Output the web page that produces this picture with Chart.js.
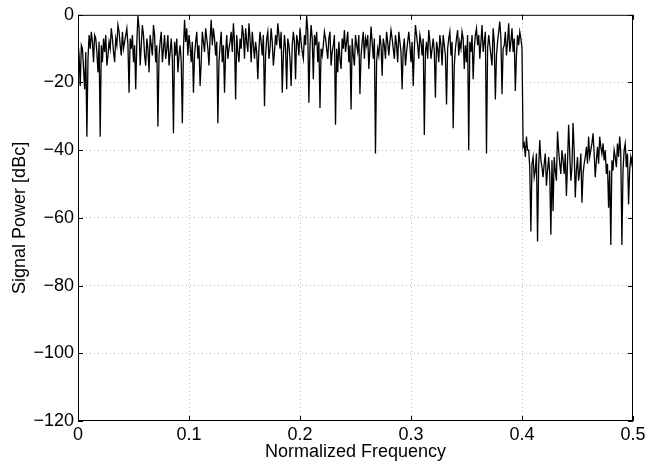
<!DOCTYPE html>
<html>
<head>
<meta charset="utf-8">
<script src="https://cdn.jsdelivr.net/npm/chart.js@4.4.0/dist/chart.umd.min.js"></script>
<style>
  html, body { margin: 0; padding: 0; background: #fff; }
  #wrap { width: 649px; height: 467px; }
</style>
</head>
<body>
<div id="wrap"><canvas id="spectrum"></canvas></div>
<script>
// frequency bins (normalized), 0.001 apart
const freqs = [
  0, 0.001, 0.002, 0.003, 0.004, 0.005, 0.006, 0.007, 0.008, 0.009, 0.01, 0.011, 0.012, 0.013, 0.014, 0.015, 0.016, 0.017, 0.018, 0.019,
  0.02, 0.021, 0.022, 0.023, 0.024, 0.025, 0.026, 0.027, 0.028, 0.029, 0.03, 0.031, 0.032, 0.033, 0.034, 0.035, 0.036, 0.037, 0.038, 0.039,
  0.04, 0.041, 0.042, 0.043, 0.044, 0.045, 0.046, 0.047, 0.048, 0.049, 0.05, 0.051, 0.052, 0.053, 0.054, 0.055, 0.056, 0.057, 0.058, 0.059,
  0.06, 0.061, 0.062, 0.063, 0.064, 0.065, 0.066, 0.067, 0.068, 0.069, 0.07, 0.071, 0.072, 0.073, 0.074, 0.075, 0.076, 0.077, 0.078, 0.079,
  0.08, 0.081, 0.082, 0.083, 0.084, 0.085, 0.086, 0.087, 0.088, 0.089, 0.09, 0.091, 0.092, 0.093, 0.094, 0.095, 0.096, 0.097, 0.098, 0.099,
  0.1, 0.101, 0.102, 0.103, 0.104, 0.105, 0.106, 0.107, 0.108, 0.109, 0.11, 0.111, 0.112, 0.113, 0.114, 0.115, 0.116, 0.117, 0.118, 0.119,
  0.12, 0.121, 0.122, 0.123, 0.124, 0.125, 0.126, 0.127, 0.128, 0.129, 0.13, 0.131, 0.132, 0.133, 0.134, 0.135, 0.136, 0.137, 0.138, 0.139,
  0.14, 0.141, 0.142, 0.143, 0.144, 0.145, 0.146, 0.147, 0.148, 0.149, 0.15, 0.151, 0.152, 0.153, 0.154, 0.155, 0.156, 0.157, 0.158, 0.159,
  0.16, 0.161, 0.162, 0.163, 0.164, 0.165, 0.166, 0.167, 0.168, 0.169, 0.17, 0.171, 0.172, 0.173, 0.174, 0.175, 0.176, 0.177, 0.178, 0.179,
  0.18, 0.181, 0.182, 0.183, 0.184, 0.185, 0.186, 0.187, 0.188, 0.189, 0.19, 0.191, 0.192, 0.193, 0.194, 0.195, 0.196, 0.197, 0.198, 0.199,
  0.2, 0.201, 0.202, 0.203, 0.204, 0.205, 0.206, 0.207, 0.208, 0.209, 0.21, 0.211, 0.212, 0.213, 0.214, 0.215, 0.216, 0.217, 0.218, 0.219,
  0.22, 0.221, 0.222, 0.223, 0.224, 0.225, 0.226, 0.227, 0.228, 0.229, 0.23, 0.231, 0.232, 0.233, 0.234, 0.235, 0.236, 0.237, 0.238, 0.239,
  0.24, 0.241, 0.242, 0.243, 0.244, 0.245, 0.246, 0.247, 0.248, 0.249, 0.25, 0.251, 0.252, 0.253, 0.254, 0.255, 0.256, 0.257, 0.258, 0.259,
  0.26, 0.261, 0.262, 0.263, 0.264, 0.265, 0.266, 0.267, 0.268, 0.269, 0.27, 0.271, 0.272, 0.273, 0.274, 0.275, 0.276, 0.277, 0.278, 0.279,
  0.28, 0.281, 0.282, 0.283, 0.284, 0.285, 0.286, 0.287, 0.288, 0.289, 0.29, 0.291, 0.292, 0.293, 0.294, 0.295, 0.296, 0.297, 0.298, 0.299,
  0.3, 0.301, 0.302, 0.303, 0.304, 0.305, 0.306, 0.307, 0.308, 0.309, 0.31, 0.311, 0.312, 0.313, 0.314, 0.315, 0.316, 0.317, 0.318, 0.319,
  0.32, 0.321, 0.322, 0.323, 0.324, 0.325, 0.326, 0.327, 0.328, 0.329, 0.33, 0.331, 0.332, 0.333, 0.334, 0.335, 0.336, 0.337, 0.338, 0.339,
  0.34, 0.341, 0.342, 0.343, 0.344, 0.345, 0.346, 0.347, 0.348, 0.349, 0.35, 0.351, 0.352, 0.353, 0.354, 0.355, 0.356, 0.357, 0.358, 0.359,
  0.36, 0.361, 0.362, 0.363, 0.364, 0.365, 0.366, 0.367, 0.368, 0.369, 0.37, 0.371, 0.372, 0.373, 0.374, 0.375, 0.376, 0.377, 0.378, 0.379,
  0.38, 0.381, 0.382, 0.383, 0.384, 0.385, 0.386, 0.387, 0.388, 0.389, 0.39, 0.391, 0.392, 0.393, 0.394, 0.395, 0.396, 0.397, 0.398, 0.399,
  0.4, 0.401, 0.402, 0.403, 0.404, 0.405, 0.406, 0.407, 0.408, 0.409, 0.41, 0.411, 0.412, 0.413, 0.414, 0.415, 0.416, 0.417, 0.418, 0.419,
  0.42, 0.421, 0.422, 0.423, 0.424, 0.425, 0.426, 0.427, 0.428, 0.429, 0.43, 0.431, 0.432, 0.433, 0.434, 0.435, 0.436, 0.437, 0.438, 0.439,
  0.44, 0.441, 0.442, 0.443, 0.444, 0.445, 0.446, 0.447, 0.448, 0.449, 0.45, 0.451, 0.452, 0.453, 0.454, 0.455, 0.456, 0.457, 0.458, 0.459,
  0.46, 0.461, 0.462, 0.463, 0.464, 0.465, 0.466, 0.467, 0.468, 0.469, 0.47, 0.471, 0.472, 0.473, 0.474, 0.475, 0.476, 0.477, 0.478, 0.479,
  0.48, 0.481, 0.482, 0.483, 0.484, 0.485, 0.486, 0.487, 0.488, 0.489, 0.49, 0.491, 0.492, 0.493, 0.494, 0.495, 0.496, 0.497, 0.498, 0.499,
  0.5
];

// measured power per bin, dBc (passband up to 0.4, then the stopband floor)
const powerDbc = [
  -8, -12, -21, -9, -10, -16, -22, -11, -36, -13, -6, -10, -5, -8, -14, -6, -7, -11, -17, -8,
  -36, -9, -14, -7, -11, -6, -15, -12, -8, -10, -4, -7, -11, -14, -7, -9, -3, -5, -9, -12,
  -5, -10, -8, -6, -4, -9, -23, -7, -10, -6, -14, -9, -22, -8, -0.3, -4, -15, -9, -3, -6,
  -12, -15, -7, -10, -17, -6, -9, -12, -3, -6, -14, -9, -33, -12, -8, -5, -14, -10, -6, -13,
  -10, -6, -15, -11, -7, -13, -35, -8, -12, -7, -17, -12, -9, -14, -32, -10, -1.5, -8, -4, -12,
  -6, -9, -14, -8, -23, -12, -8, -5, -13, -9, -21, -14, -5, -8, -11, -4, -7, -10, -15, -7,
  -1.5, -9, -4, -7, -12, -8, -32, -14, -9, -5, -14, -9, -23, -11, -6, -13, -10, -8, -5, -11,
  -2.5, -8, -25, -6, -11, -14, -7, -10, -3, -6, -13, -4, -8, -11, -2.5, -7, -14, -5, -9, -13,
  -8, -11, -19, -10, -5, -8, -12, -6, -27, -12, -7, -5, -13, -10, -4, -8, -15, -11, -6, -9,
  -2.5, -6, -10, -5, -23, -12, -6, -10, -22, -7, -9, -13, -21, -9, -5, -8, -19, -6, -8, -12,
  -4, -8, -11, -13, -6, -9, -0.2, -5, -26, -9, -3, -7, -19, -6, -9, -5, -14, -8, -27.5, -10,
  -12, -9, -5, -7, -10, -13, -7, -5, -15, -11, -9, -6, -32.5, -10, -17, -8, -13, -16, -7, -10,
  -4.5, -11, -8, -5, -14, -9, -28, -7, -12, -15, -6, -9, -11, -6, -23.5, -12, -8, -5, -13, -7,
  -9, -6, -16, -10, -3.5, -8, -13, -7, -41, -14, -10, -12, -6, -9, -18, -7, -9, -13, -5, -8,
  -12, -8, -4.5, -7, -10, -13, -6, -9, -14, -5, -8, -11, -22, -10, -7, -15, -11, -8, -5, -9,
  -14, -8, -21, -10, -3, -6, -9, -13, -6, -8, -12, -7, -35.5, -11, -8, -13, -4.5, -8, -13, -10,
  -7, -11, -24.5, -8, -10, -14, -6, -9, -15, -6, -9, -12, -26.5, -10, -7, -5, -12, -8, -33.5, -15,
  -10, -7, -4.5, -12, -8, -10, -5, -7, -16, -9, -14, -6, -40, -8, -11, -6, -19, -10, -6, -4,
  -9, -6, -13, -8, -3, -11, -8, -5, -41, -10, -6, -9, -12, -15, -4, -8, -25, -12, -8, -5,
  -2, -7, -23.5, -10, -9, -5, -12, -8, -2.5, -11, -8, -4, -11, -7, -22.5, -12, -6, -9, -5, -7,
  -10, -39, -38, -42, -36, -40, -40, -45, -64, -44, -42, -48, -46, -41, -67, -45, -37, -43, -45, -48,
  -44, -41, -50.5, -46, -42, -47, -65, -43, -58, -42, -46, -49, -34.5, -40, -44, -47, -40, -43, -47, -41,
  -53.5, -44, -32.5, -41, -49, -45, -32, -40, -54, -46, -42, -49, -46, -41, -55.5, -47, -44, -42, -39, -44,
  -36, -42, -40, -38, -35, -41, -48, -43, -39, -44, -36, -39, -41, -38, -43, -40, -47, -44, -57, -46,
  -68, -43, -46, -40, -42, -45, -38, -42, -36, -41, -68, -46, -40, -38, -45, -41, -56, -46, -42, -44,
  -40
];

const xTicks = [0, 0.1, 0.2, 0.3, 0.4, 0.5];
const yTicks = [0, -20, -40, -60, -80, -100, -120];

const FONT = { family: '"Liberation Sans", Arial, Helvetica, sans-serif', size: 18 };
const GRID = '#b4b4b4';

function minus(v) {
  return String(v).replace('-', '\u2212');
}

// full box + inward tick marks on all four sides
const boxTicks = {
  id: 'boxTicks',
  afterDraw(chart) {
    const { ctx, chartArea: a, scales: { x, y } } = chart;
    const len = 5;
    ctx.save();
    ctx.strokeStyle = '#000';
    ctx.lineWidth = 1;
    ctx.strokeRect(a.left + 0.5, a.top + 0.5, a.right - a.left - 1, a.bottom - a.top - 1);
    ctx.beginPath();
    xTicks.forEach(v => {
      const px = Math.round(x.getPixelForValue(v)) + 0.5;
      ctx.moveTo(px, a.bottom);
      ctx.lineTo(px, a.bottom - len);
      ctx.moveTo(px, a.top);
      ctx.lineTo(px, a.top + len);
    });
    yTicks.forEach(v => {
      const py = Math.round(y.getPixelForValue(v)) + 0.5;
      ctx.moveTo(a.left, py);
      ctx.lineTo(a.left + len, py);
      ctx.moveTo(a.right, py);
      ctx.lineTo(a.right - len, py);
    });
    ctx.stroke();
    ctx.restore();
  }
};

const edgeless = (lo, hi) => ctx => {
  const v = ctx.tick && ctx.tick.value;
  return (v === lo || v === hi) ? 'rgba(0,0,0,0)' : GRID;
};

new Chart(document.getElementById('spectrum'), {
  type: 'line',
  data: {
    datasets: [{
      data: freqs.map((f, i) => ({ x: f, y: powerDbc[i] })),
      borderColor: '#000',
      borderWidth: 1.3,
      pointRadius: 0,
      tension: 0,
      fill: false
    }]
  },
  options: {
    responsive: true,
    maintainAspectRatio: false,
    animation: false,
    layout: { padding: { top: 14, right: 16, left: 0, bottom: 0 } },
    plugins: {
      legend: { display: false },
      tooltip: { enabled: false }
    },
    scales: {
      x: {
        type: 'linear',
        min: 0,
        max: 0.5,
        afterBuildTicks: s => { s.ticks = xTicks.map(v => ({ value: v })); },
        afterFit: s => { s.height = 46; },
        ticks: {
          color: '#000',
          font: FONT,
          padding: 3,
          maxRotation: 0,
          callback: v => String(v)
        },
        grid: {
          color: edgeless(0, 0.5),
          lineWidth: 1,
          drawTicks: false
        },
        border: { display: false, dash: [1, 3] },
        title: {
          display: true,
          text: 'Normalized Frequency',
          color: '#000',
          font: FONT,
          padding: { top: 0, bottom: 4.2 }
        }
      },
      y: {
        type: 'linear',
        min: -120,
        max: 0,
        afterBuildTicks: s => { s.ticks = yTicks.map(v => ({ value: v })); },
        afterFit: s => { s.width = 78; },
        ticks: {
          color: '#000',
          font: FONT,
          padding: 4,
          callback: v => minus(v)
        },
        grid: {
          color: edgeless(0, -120),
          lineWidth: 1,
          drawTicks: false
        },
        border: { display: false, dash: [1, 3] },
        title: {
          display: true,
          text: 'Signal Power [dBc]',
          color: '#000',
          font: FONT,
          padding: { top: 9.2, bottom: 0 }
        }
      }
    }
  },
  plugins: [boxTicks]
});
</script>
</body>
</html>
